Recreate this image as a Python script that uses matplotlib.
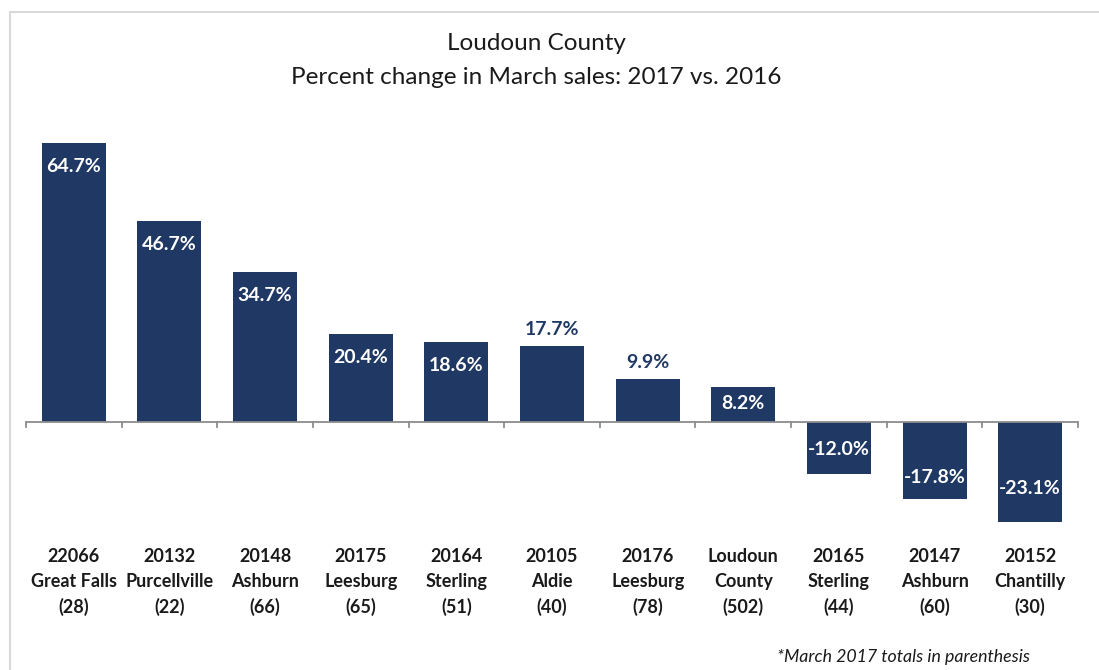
import matplotlib
matplotlib.use("Agg")
import matplotlib.pyplot as plt
from matplotlib.lines import Line2D

zips = ["22066", "20132", "20148", "20175", "20164", "20105", "20176", "Loudoun", "20165", "20147", "20152"]
places = ["Great Falls", "Purcellville", "Ashburn", "Leesburg", "Sterling", "Aldie", "Leesburg", "County", "Sterling", "Ashburn", "Chantilly"]
totals = [28, 22, 66, 65, 51, 40, 78, 502, 44, 60, 30]
pct_change = [64.7, 46.7, 34.7, 20.4, 18.6, 17.7, 9.9, 8.2, -12.0, -17.8, -23.1]
label_outside = [False, False, False, False, False, True, True, False, False, False, False]

NAVY = "#1f3864"
FONT = ["Lato", "DejaVu Sans"]
plt.rcParams['font.family'] = FONT

W, H = 1099, 670
fig = plt.figure(figsize=(W / 100, H / 100), dpi=100)

def fx(px):
    return px / W

def fy(py):
    return 1 - py / H

top_px, bot_px = 130, 530
zero_px = 422
ppu = (zero_px - 143) / 64.7
ymax = (zero_px - top_px) / ppu
ymin = -(bot_px - zero_px) / ppu

ax = fig.add_axes([fx(26), fy(bot_px), fx(1078) - fx(26), fy(top_px) - fy(bot_px)])
x = list(range(len(pct_change)))
ax.bar(x, pct_change, width=0.67, color=NAVY, zorder=2)
ax.set_xlim(-0.5, len(pct_change) - 0.5)
ax.set_ylim(ymin, ymax)
for s in ax.spines.values():
    s.set_visible(False)
ax.set_yticks([])
ax.axhline(0, color="#8c8c8c", lw=1.3, zorder=3)
for b in range(len(pct_change) + 1):
    ax.plot([b - 0.5, b - 0.5], [0, -5 / ppu], color="#8c8c8c", lw=1.3, zorder=3, clip_on=False)

ax.set_xticks(x)
ax.set_xticklabels([f"{z}\n{p}\n({t})" for z, p, t in zip(zips, places, totals)],
                   fontsize=13, fontweight="bold", color="#1a1a1a", linespacing=1.55)
ax.tick_params(axis="x", length=0, pad=13)

neg_offsets = [17.5, 15.5, 23.5]
neg_i = 0
for xi, v, out in zip(x, pct_change, label_outside):
    txt = f"{v:.1f}%"
    if out:
        ax.annotate(txt, (xi, v), xytext=(0, 12), textcoords="offset points",
                    ha="center", va="center", color=NAVY, fontsize=14, fontweight="bold")
    elif v >= 0:
        off = -12 if v < 10 else -17
        ax.annotate(txt, (xi, v), xytext=(0, off), textcoords="offset points",
                    ha="center", va="center", color="white", fontsize=14, fontweight="bold")
    else:
        off = neg_offsets[neg_i]
        neg_i += 1
        ax.annotate(txt, (xi, v), xytext=(0, off), textcoords="offset points",
                    ha="center", va="center", color="white", fontsize=14, fontweight="bold")

fig.text(fx(536), fy(44), "Loudoun County", ha="center", va="center", fontsize=17.5, color="#1a1a1a")
fig.text(fx(536), fy(77), "Percent change in March sales: 2017 vs. 2016", ha="center", va="center",
         fontsize=17.5, color="#1a1a1a")
fig.text(fx(1030), fy(657), "*March 2017 totals in parenthesis", ha="right", va="center",
         fontsize=12.8, style="italic", color="#1a1a1a")

fig.add_artist(Line2D([fx(10), fx(10)], [fy(12), 0], color="#d9d9d9", lw=1.5))
fig.add_artist(Line2D([fx(10), 1], [fy(12), fy(12)], color="#d9d9d9", lw=1.5))

fig.savefig("out.png", dpi=100)
